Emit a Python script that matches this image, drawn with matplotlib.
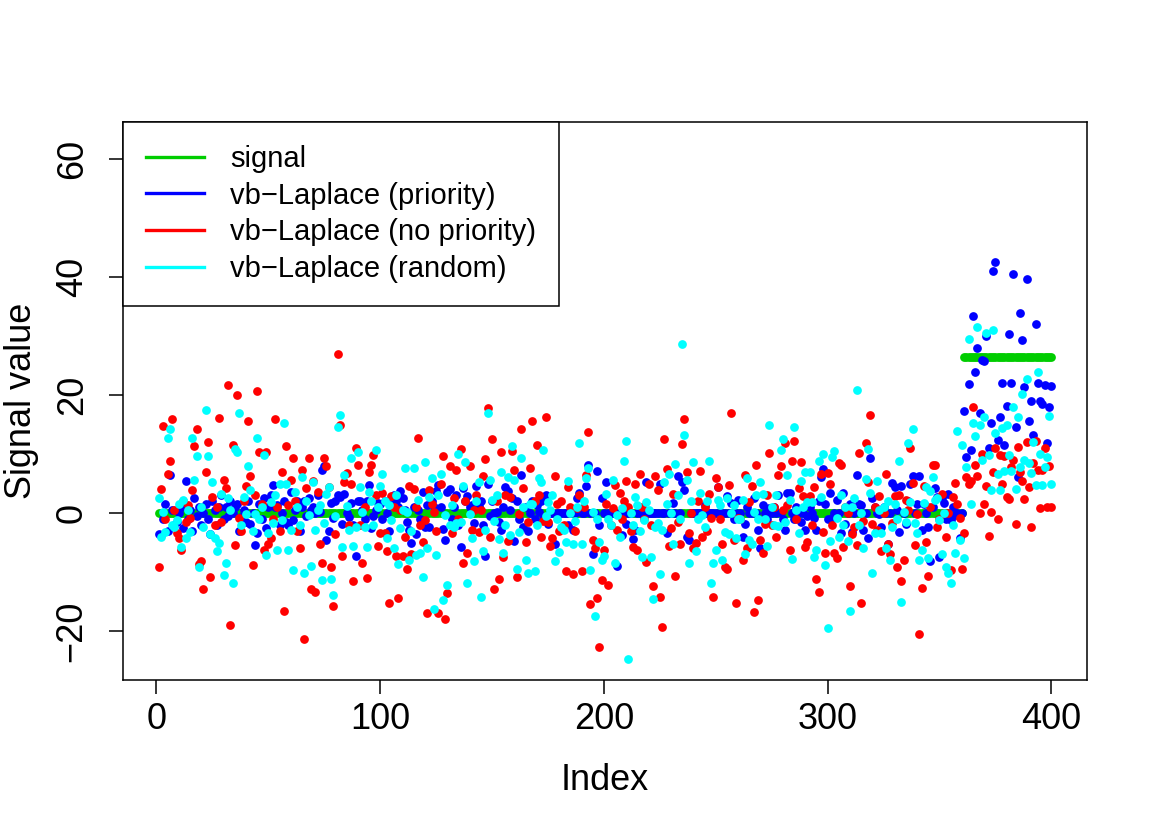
import matplotlib
matplotlib.use("Agg")
import matplotlib.pyplot as plt
from matplotlib.lines import Line2D

plt.rcParams['font.family'] = ['Liberation Sans', 'DejaVu Sans']

# ---- data ----
signal = [0.0] * 360 + [26.5] * 40

priority = [
    -3.5, -3.7, -1, 1.5, -3, 6.5, 0.5, -2, -1.5, 0,
    1, -2.5, 5.4, -1, 0.5, -3, 2.5, -0.5, 1, -2,
    0, 1.5, -1, -3.5, 2, 0.5, -2, 1, 3, -1,
    1, -0.5, 2, 0, 1, 1.5, -3, -0.6, 0.5, -1.5,
    2, -1.8, 0, -5.4, -3.4, 1.5, -1, 2.5, -2.5, 1.1,
    3, 4.7, 1, 1.3, -2, 0, 2, -1.5, -2.1, 3.5,
    -1.2, 0.5, 2, -3, 1, 2.1, -0.5, 2.5, 0.5, 1,
    0, 3, 0.2, 7.3, 8, -4.5, -3, 1.7, -0.9, 2,
    3, 2.7, -1.8, 3.3, 0, -0.7, 1.7, -2, -7.3, 2,
    2, 0.5, -1, 2, 4.8, -2.6, -0.5, 0.5, 1.7, 1.5,
    -1, 2, 0, -3, 1.5, 3, 2, 1, 3.7, 2.5,
    0.5, -1.5, -2.9, -5, 1, -3.6, 0.5, -1, 3.6, -2.4,
    1.3, -2.4, 2, 1, 3.8, 4.7, 1, -2.7, -4.5, 3.6,
    4, -1, 1, 3, -2, -5.8, 4.2, 2, 2.9, 1,
    1.3, -1.7, 4.6, 1.2, 2, -2, -7.3, 5, -0.5, 2,
    0, 0.2, -1.5, -2.8, 1, 4.4, 3.8, 0.5, 2.5, -4.8,
    2, -1, 6.5, -2.3, 1, -3, 0, 2, -1, 1.3,
    0.2, 2, -1, 3, -1.8, 0, 0, -5.2, 0, 0,
    0, 0, 0, -2.1, 0, -2.9, 0, 2.6, 3.4, 0,
    0, 4.6, 8.1, 0, -7, 0, 7.2, -2.1, 2.5, 0,
    5.2, 0, 0, 0, 0, -8.9, 0, -3.7, 0, -1.8,
    0, 0, -4.4, -2.8, 0, 0, 0, 0, 5.3, 0,
    0, 0, 0, 0, 4.9, 0, 0, -3.4, 0, 0,
    1.7, 0, 6.3, 0, 5.3, 3.9, -4, -4.6, 0, 0,
    0, 0, 0, 0, 1.3, 0, 0, 0, 0, 0,
    4.4, 0, 0, 0, 2.9, 0, 1.7, -1, 0, 2.3,
    0, -4.1, -1.8, 1, 0, 0, 2.5, 0, -2.9, -6,
    1.3, 0, -1, 0.8, 0, 1, 0, 3, 0, -1,
    -2.9, 3.4, 3.4, 0, -1, 1, 0, -1.5, 0, -2.9,
    -0.5, 1, 0, -0.9, -2.8, 2, 6.1, 7.5, 1.6, -1,
    3.4, -0.9, 0, 2.2, 0, -3.4, 3.4, -1.8, 0, 1.6,
    -3.2, 0, 6.4, 1.6, 1.3, -2.9, 0, -4.3, 9.3, 2.5,
    1, 0, -0.2, -2.3, 1, 0, -5.2, 0, 5.1, 4.4,
    0.5, -3.2, 4.6, 0, -1.8, 2, 4.9, 6.3, 0, 1.6,
    6.3, -2.8, 1.6, 0, -2.3, -8.2, 1, 4.2, 2.8, -7.4,
    2.5, 1.7, -1, 3.3, -1.1, 1, -0.4, 0, -4.3, 0,
    17.3, 9.5, 21.8, 10.7, 33.4, 23.9, 28, 16.9, 26, 25.8,
    30, 11, 15.3, 41, 42.6, 12.4, 16.3, 22, 11.5, 18.2,
    30.3, 22, 40.6, 14.6, 6.1, 33.9, 29.3, 21.4, 39.7, 15.6,
    19, 13.2, 32, 22, 19, 18.5, 21.7, 11.9, 18, 21.5,
]

no_priority = [
    -9.1, 4.1, 14.7, -1, 6.6, 8.9, 16, 0.5, -3.4, -4.3,
    -6.3, 2, -1.5, 1.4, -0.9, 3.9, 11.4, 14.2, -8.6, -8.1,
    -12.9, 6.9, 12, -10.8, 2.8, -2, 1, 16.2, -1.5, 5.6,
    4.3, 21.7, -18.9, 11.5, -5.4, 20, -0.9, -3, 2, 4.6,
    15.6, 6.3, -8.8, 3, 20.7, 10.4, 1.6, -6.3, 10.4, -5.2,
    -4.3, -1, 15.9, 1, -3, 7, -16.6, 11.4, 1.3, 5.6,
    9.3, 2, -3, -6, 7.3, -21.4, 4.2, 9.3, -12.9, 5.5,
    -13.3, 3.6, -5.3, -8.5, 9.3, 7.9, 4.4, -9.1, -15.8, -3.6,
    26.9, 15, -7.3, 5.3, 6.8, -2, 4.9, -11.6, 11.1, 8.1,
    -2, -8.4, 1.1, -11, 7, 8.2, 9.8, 3, -5.5, -3.4,
    3.4, -3.3, -6.4, -15.2, 2.9, 1, -7.3, -14.4, 0.5, -7.3,
    -4, -9.5, 4.6, -6.9, 4, 1, 12.8, -2, -4.9, -1.2,
    -16.9, 3.9, 1.6, 0.2, -3, -16.9, 5, 9.7, -18, -13.6,
    7.9, -3.4, 2.5, 7.3, -1, 10.8, -8.5, 2, -6.7, 7.9,
    -2.9, 0.6, 3, -3.2, 0.5, 6.3, 9.1, 17.8, -4, 12.6,
    -12.8, 2, -11.1, 10.3, -7.5, 3, -4.7, 2.8, 10.5, 7.3,
    -10.9, -0.2, 14.3, 4.2, -4.9, -1.5, 7.7, 15.6, 2, 11.6,
    3, -4, -1.3, 16.3, -1.5, -5.6, -4.3, 6.3, 1.6, -3,
    2, -2, -9.8, 4.5, 1, -10.4, -3, 0.8, 3, -9.8,
    1, 6.4, 13.8, -15.4, -4.5, -6, -14.4, -22.7, -11.3, -6.3,
    1.6, -12.2, -2, 0.8, 4.7, -2.9, 3.4, -1, 2, 5.5,
    1, -3, -5.8, 4.9, -6.2, 6.7, 1, -1, -8.3, 4.9,
    -2, -12.4, 6.3, 3.9, -14.2, -19.3, 12.5, 7.4, -5.5, -2.5,
    3.2, -10.7, -1.5, -5.2, 11.7, 16, 7, -3.4, 0, -6,
    -5, 2, 7.1, -4, 1, -3, 3.3, -0.8, -14.2, 6,
    4.4, -1, -5.2, -9.1, -9.5, 4.7, 16.9, -4.5, -15.2, -0.9,
    -1, -8, 6.4, -6, 1.9, 4.6, -16.8, 8.1, -14.8, -4.5,
    -6.7, -1.8, 3, 10.2, -2, 1, -4, 6.4, 7.9, 0.5,
    11.9, 1.3, -6.3, 8.8, 12.3, -1, 4.3, 8.6, 2.9, -5.7,
    -4.9, 2.9, -2, 4.5, -11.1, -13.4, 6.6, -3.2, -6.8, 6.8,
    4.9, -2, -6.8, -7.6, 8.5, 8.2, -5.7, 1, 0, -12.4,
    -3.6, -2.3, -5.4, 10.1, -15.2, -1.3, 11.9, 5.3, 16.6, -1.9,
    1, -2.8, 2.9, -6.5, 0, 6.7, -5.2, -7, -1.7, 2.9,
    -9.2, 3, -11.5, -7.9, 2.3, 0.5, 11.1, 5.1, -5.4, -0.1,
    -20.5, -12.7, 4.6, -4.9, -10.7, 1, 8.2, 8.2, -2.4, -1,
    3.3, 0, -4, 0, -9.7, 2.7, 5.1, 1.6, -0.9, -9.4,
    -3.4, 6.1, 4.9, 5.4, 18, 8.1, 6.3, 0, 10, 1.5,
    4.6, -3.9, 0.2, 7, 11, -1, 9.8, 5, 9.7, 2.7,
    2.4, 7.8, 9, -1.9, 11.2, 7, 5.5, 2.4, 12, 4.4,
    -2.4, 8.5, 12.2, 7.3, 0.8, 7.3, 11, 1, 8, 1.1,
]

random_order = [
    2.5, -4.1, 0.2, -3.2, 12.8, 14.2, -2, -2.3, -1.2, 1.6,
    -5.7, 2.3, -4.3, 0.5, -3.2, 12.7, 5.6, 9.7, -9.1, 1,
    -2.4, 17.5, 9.7, -3.5, 5.3, -4.3, -6.4, -5, 3.2, -10.5,
    -8.4, 2.5, 0.5, -11.9, 10.9, 10.4, 16.9, -2, 2.8, -0.1,
    7.9, 3.9, -3, -0.1, 12.7, -1, 1.1, 9.8, -7.1, -3.4,
    1.9, -1.7, 3, -6.2, 4.9, -1.2, 15.2, 4.9, -6.3, -2.9,
    -9.6, 3.6, 1, -2, 6.2, -10.1, 2, -0.4, -9, 5.3,
    -2.8, 0.5, 1.3, -11.4, -1.6, 3.2, 4.5, -11.1, -13.9, -0.5,
    14.6, 16.6, -5.7, 6.4, 1.2, -2.9, 9.4, -5.5, -2.4, 10.4,
    4.4, 0.1, -2.4, -5.7, 3.5, 2, -2, 10.7, 1, 4.6,
    6.7, 2, -4.3, 1.3, -1.2, -6, 3, -8.6, -2.6, 0.5,
    7.7, 0.1, -8, -3, 7.7, -7.1, 2.3, -6.7, -10.8, 8.7,
    -6, 2.7, 5.9, -16.2, -7.1, 3.1, 6.7, -14.7, -0.4, -12.2,
    -2, 1.3, -2.3, -1.7, 10, -1.5, 4.6, 8.6, -11.8, -0.1,
    -4.3, -8.1, 2, 5.3, -14.2, -6.4, -2.8, 16.9, 5.6, 2.2,
    -1.3, 3, -4.4, 7, -6.7, -2.1, 6.2, -3.7, 11.4, 5.6,
    -9.4, -3.2, 9.3, 1, -8, -10.2, 1.6, 1.6, -9.8, -2,
    5.9, 5.3, 10.7, -0.5, 1.9, 0.5, 3.1, -8.1, -1, -6.6,
    -2.3, -2.9, -4.9, 5.5, 0, -5.3, -1.3, 1.1, 11.9, -5.2,
    2, 5.9, 7.7, -9.7, 0.1, -17.4, -1, -4.9, -8, -7.3,
    3.3, -1, -2, 5.6, -8.4, -0.4, -4, 0.8, 8.9, 12.2,
    -24.8, 0, -2, 2.8, 1.3, -3, -7.5, -1.2, 1.8, 0.5,
    -7.5, -14.6, -2.3, -1.7, -10.4, -2.9, 5.3, 1.6, 6.7, 0,
    -5.2, 8.4, 3.1, -1, 28.7, 13.2, 5.6, -8.4, 2, 8.7,
    -6.4, -1, 3.4, -0.4, -2.3, 2, 8.8, -11.8, -8.5, -6.2,
    2.3, 1.4, -7.9, -3.2, 2.6, -3.6, 0, 1.4, -4.3, -1,
    -1, 2.3, -7, 5.9, -4.6, -5.3, 0.1, 3, -1, 5.2,
    3.2, -1, -5.6, 14.9, 1, -2.1, 3.1, -2.2, 10.7, 12.5,
    -1.5, 6.4, 2.2, -7.8, 14.6, 0.5, -3.3, 5.5, 1, 7,
    1.9, 6.9, 1.9, -7.5, -6.2, 8.9, 2.8, 10, -8.8, -19.4,
    -4.8, 9.5, 10.6, -0.9, -4, 3, -2, 1, -4.8, -16.6,
    1.1, 2.6, 20.9, -2, 0, -6, 5.7, 10.8, 3.4, -10.2,
    -3.4, 5.5, 0.6, -3.3, 1, -5.9, 2.1, -7.9, -2.3, 1.6,
    -1, 8.9, -15.1, 0.1, -1.5, 11.8, 1.9, 14.3, -1.6, -3.3,
    -8, -6.2, 1.7, 4.5, -7.7, 3.8, 6.2, 2.3, 2.5, -1.1,
    -7, 0, -9.1, -10.1, -11.9, -2.1, -6.7, 13.9, -4.5, 11.5,
    -7.7, 7.8, 29.5, 1.5, 15.2, 13, 31.5, 14.9, 9, 16.3,
    30.5, 9.8, 3.9, 31, 13.6, 6.6, 3.9, 14.4, 7.1, 14.9,
    9.8, 7.1, 18, 4.1, 16.3, 7.8, 20.2, 9, 22.7, 8.5,
    6.8, 12, 4.7, 23.9, 10, 4.7, 7.8, 9.5, 16.4, 5,
]

series_labels = ["signal", "vb\u2212Laplace (priority)",
                 "vb\u2212Laplace (no priority)", "vb\u2212Laplace (random)"]
x_ticks = [0, 100, 200, 300, 400]
y_ticks = [-20, 0, 20, 40, 60]

# ---- plotting ----
COL_SIG, COL_PRI, COL_NOP, COL_RND = "#00CD00", "#0000FF", "#FF0000", "#00FFFF"
index = list(range(1, len(signal) + 1))

W, H = 1150, 834
fig = plt.figure(figsize=(W / 100, H / 100), dpi=100)
ax = fig.add_axes([123 / W, 1 - 680 / H, 964 / W, 558 / H])

ms = 6.3
for vals, col in [(signal, COL_SIG), (priority, COL_PRI),
                  (no_priority, COL_NOP), (random_order, COL_RND)]:
    ax.plot(index, vals, linestyle="none", marker="o", ms=ms,
            mec="none", mfc=col)

ax.set_xlim(1 - 0.04 * 399, 400 + 0.04 * 399)
ax.set_ylim(-28.3, 66.3)
ax.set_xticks(x_ticks)
ax.set_yticks(y_ticks)
ax.set_xticklabels([str(t) for t in x_ticks])
ax.set_yticklabels([str(t).replace("-", "\u2212") for t in y_ticks])

for s in ax.spines.values():
    s.set_linewidth(1.1)
ax.tick_params(axis="both", direction="out", length=10, width=1.1,
               labelsize=26)
ax.tick_params(axis="x", pad=6)
ax.tick_params(axis="y", pad=14)
for lab in ax.get_yticklabels():
    lab.set_rotation(90)
    lab.set_va("center")

ax.set_xlabel("Index", fontsize=26, va="center")
ax.xaxis.set_label_coords(0.5, (680 - 780) / 558)
ax.set_ylabel("Signal value", fontsize=26, va="center")
ax.yaxis.set_label_coords((22 - 123) / 964, 0.5)

handles = [Line2D([], [], color=c, lw=2.4)
           for c in (COL_SIG, COL_PRI, COL_NOP, COL_RND)]
leg = ax.legend(handles, series_labels, loc="upper left",
                bbox_to_anchor=(0, 1), borderaxespad=0, fontsize=21,
                frameon=True, fancybox=False, framealpha=1,
                edgecolor="black", borderpad=0.78, handlelength=2.0,
                handletextpad=0.9, labelspacing=0.3)
leg.get_frame().set_linewidth(1.1)

fig.savefig("out.png", dpi=100)
